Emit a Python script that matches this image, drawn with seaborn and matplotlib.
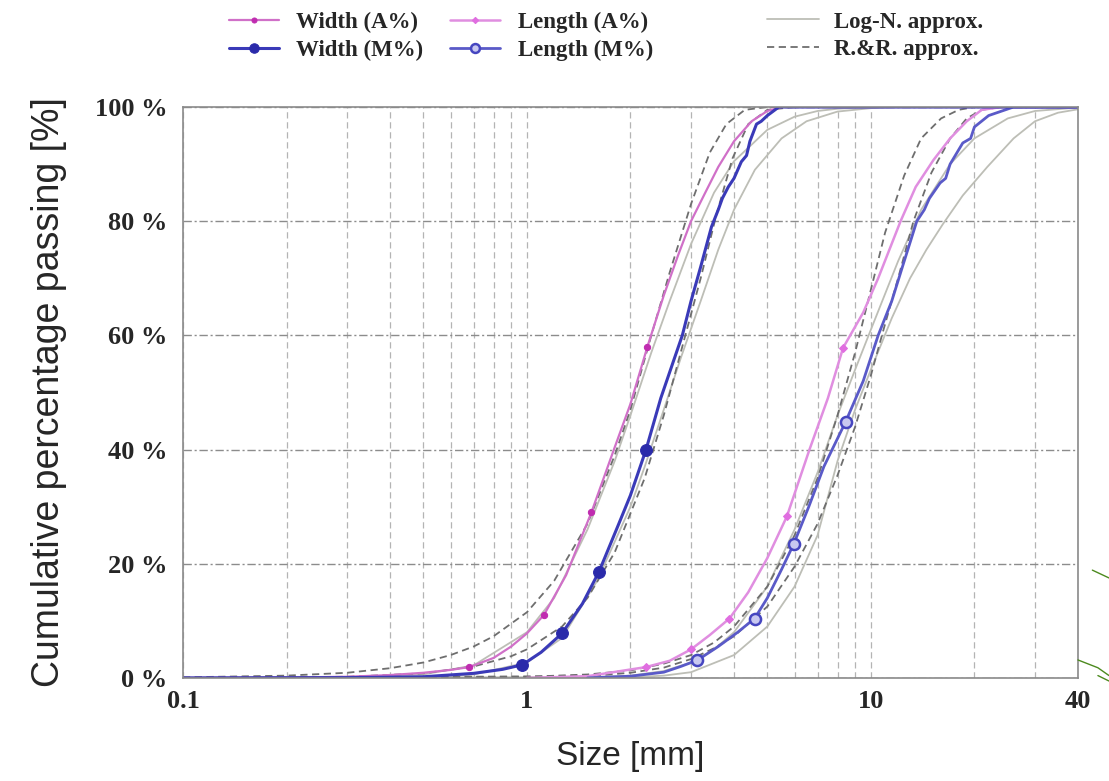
import numpy as np
import pandas as pd
import matplotlib
matplotlib.use("Agg")
import matplotlib.pyplot as plt
import seaborn as sns
from matplotlib.lines import Line2D
from matplotlib.ticker import FixedLocator, NullFormatter

# measured curves (size in mm, cumulative % passing)
width_a_size = [0.1, 0.2, 0.3, 0.4, 0.5, 0.6, 0.68, 0.8, 0.9, 1.0, 1.12, 1.3, 1.54, 1.79, 2.0, 2.24,
                2.5, 2.75, 3.0, 3.3, 3.6, 4.0, 4.5, 5.0, 5.5, 40]
width_a_pass = [0, 0.05, 0.2, 0.5, 0.9, 1.4, 1.9, 3.5, 5.5, 7.8, 11, 18, 29, 40, 48, 58,
                67, 74, 80, 85, 89.5, 94, 97.5, 99.3, 100, 100]
width_a_marks = [0.68, 1.12, 1.54, 2.24]

width_m_size = [0.1, 0.3, 0.5, 0.7, 0.85, 0.97, 1.1, 1.265, 1.45, 1.62, 1.85, 2.0, 2.22, 2.45, 2.65,
                2.83, 3.0, 3.2, 3.44, 3.6, 3.7, 3.85, 4.0, 4.2, 4.35, 4.45, 4.65, 4.8, 5.0, 5.4, 40]
width_m_pass = [0, 0.05, 0.2, 0.8, 1.5, 2.3, 4.5, 7.8, 13, 18.6, 27, 32, 40, 49, 55,
                60, 66, 72, 79, 82, 84, 86, 87.5, 90.4, 91.5, 94, 97, 97.5, 98.5, 100, 100]
width_m_marks = [0.97, 1.265, 1.62, 2.22]

length_a_size = [1.0, 1.5, 2.22, 2.6, 3.0, 3.4, 3.88, 4.4, 5.0, 5.7, 6.63, 7.5, 8.3, 9.5, 10.5,
                 12.2, 13.5, 15.2, 17, 19, 21, 24, 40]
length_a_pass = [0, 0.3, 1.9, 3, 5, 7.5, 10.4, 15, 21, 28.3, 40, 49, 57.8, 64, 70,
                 80, 86, 90.7, 94.5, 97.5, 99.5, 100, 100]
length_a_marks = [2.22, 3.0, 3.88, 5.7, 8.3]

length_m_size = [1.5, 2.0, 2.5, 2.8, 3.13, 3.6, 4.1, 4.59, 5.0, 5.5, 5.97, 6.6, 7.3, 8.45, 9.5,
                 10.5, 11.5, 12.5, 13.6, 14.3, 14.8, 15.9, 16.5, 17, 18.5, 19.5, 20, 22, 26, 40]
length_m_pass = [0, 0.3, 1, 2, 3.1, 5.5, 8, 10.4, 14, 19, 23.5, 30, 37, 44.9, 52,
                 60, 66, 73, 80, 82, 84, 86.7, 87.5, 90, 93.7, 94.5, 96.5, 98.5, 100, 100]
length_m_marks = [3.13, 4.59, 5.97, 8.45]

# fitted approximations
width_a_rr_size = [0.1, 0.2, 0.3, 0.4, 0.5, 0.6, 0.7, 0.8, 1.0, 1.2, 1.5, 1.8, 2.0, 2.3, 2.6, 3.0,
                   3.4, 3.8, 4.3, 5.0, 40]
width_a_rr_pass = [0.1, 0.4, 0.9, 1.7, 2.7, 4.0, 5.5, 7.3, 11.5, 17, 27, 39, 47, 60, 71, 83,
                   92, 97, 99.5, 100, 100]
width_a_ln_size = [0.1, 0.3, 0.5, 0.7, 1.0, 1.2, 1.5, 1.8, 2.0, 2.3, 2.6, 3.0, 3.5, 4.0, 5.0, 6.0,
                   7.0, 8.0, 10.0, 40]
width_a_ln_pass = [0, 0.1, 0.6, 2.2, 8, 14, 26, 38, 46, 57, 66, 76, 85, 90.5, 96, 98.3,
                   99.3, 99.7, 100, 100]

width_m_rr_size = [0.1, 0.3, 0.5, 0.7, 0.9, 1.0, 1.265, 1.5, 1.8, 2.2, 2.5, 2.8, 3.2, 3.55, 3.96,
                   4.4, 5.0, 6.0, 40]
width_m_rr_pass = [0, 0.2, 0.8, 2.0, 3.8, 5.0, 9, 14, 22, 35, 46, 57, 70, 81, 91,
                   97, 99.5, 100, 100]
width_m_ln_size = [0.1, 0.5, 0.7, 1.0, 1.265, 1.6, 2.0, 2.2, 2.5, 2.8, 3.2, 3.6, 4.0, 4.6, 5.5,
                   6.5, 8.0, 10.0, 12.0, 40]
width_m_ln_pass = [0, 0.1, 0.6, 2.7, 7, 17, 30, 37, 47, 56, 66, 75, 82, 89, 94.5,
                   97.5, 99.2, 99.8, 100, 100]

length_a_rr_size = [0.1, 1.0, 1.5, 2.0, 2.5, 3.0, 3.5, 4.0, 5.0, 6.0, 7.0, 8.0, 9.0, 10.0, 11.0,
                    12.5, 14.0, 16.0, 18.0, 20.0, 40]
length_a_rr_pass = [0, 0.2, 0.6, 1.3, 2.5, 4.0, 6.2, 9.0, 16, 25, 35, 46, 57, 68, 78,
                    88, 94.5, 98, 99.5, 100, 100]
length_a_ln_size = [0.1, 1.5, 2.0, 2.5, 3.0, 3.5, 4.0, 5.0, 6.0, 7.0, 8.0, 9.0, 10.0, 12.0, 14.0,
                    17.0, 20.0, 25.0, 30.0, 40]
length_a_ln_pass = [0, 0.1, 0.4, 1.2, 2.7, 5.0, 8.0, 16, 26, 36, 46, 54, 61, 73, 82,
                    90, 94.5, 98, 99.3, 99.9]

length_m_rr_size = [0.1, 1.5, 2.0, 2.5, 3.0, 3.5, 4.0, 5.0, 6.0, 7.0, 8.0, 9.0, 10.0, 11.0, 12.0,
                    13.3, 15.0, 17.0, 19.0, 21.0, 24.0, 40]
length_m_rr_pass = [0, 0.3, 0.9, 1.8, 3.3, 5.2, 7.3, 12.5, 19.5, 27, 35.5, 44, 53, 62, 70,
                    80, 88.5, 94.5, 98, 99.5, 100, 100]
length_m_ln_size = [0.1, 2.0, 2.5, 3.0, 4.0, 5.0, 6.0, 7.0, 8.0, 9.0, 10.0, 11.5, 13.0, 14.5, 16.2,
                    18.5, 21.8, 26.0, 30.0, 35.0, 40]
length_m_ln_pass = [0, 0.1, 0.4, 1.0, 4.0, 9, 16, 25, 38, 47, 54, 63, 70, 75, 79.5,
                    84.5, 89.5, 94.5, 97.5, 99, 99.6]

x_major = [0.1, 1, 10, 40]
x_major_labels = ["0.1", "1", "10", "40"]
x_minor = [0.2, 0.3, 0.4, 0.5, 0.6, 0.7, 0.8, 0.9, 2, 3, 4, 5, 6, 7, 8, 9, 20, 30]
y_ticks = [0, 20, 40, 60, 80, 100]
y_labels = ["0 %", "20 %", "40 %", "60 %", "80 %", "100 %"]

sns.set_style("white")
plt.rcParams["font.family"] = ["Liberation Serif", "DejaVu Serif"]

fig = plt.figure(figsize=(11.09, 7.81), dpi=100)
ax = fig.add_axes([0.165, 0.132, 0.807, 0.731])


def draw(x, y, label=None, marks=None, **style):
    df = pd.DataFrame({"size": x, "passing": y})
    every = [x.index(m) for m in marks] if marks else None
    sns.lineplot(data=df, x="size", y="passing", ax=ax, label=label, sort=False,
                 estimator=None, markevery=every, legend=False, **style)


ln_style = dict(color="#bdbeb6", linewidth=1.3)
rr_style = dict(color="#6e6e6e", linewidth=1.3, linestyle=(0, (4, 2.5)))

# approximations first (underneath)
draw(width_a_ln_size, width_a_ln_pass, "Log-N. approx.", **ln_style)
draw(width_m_ln_size, width_m_ln_pass, **ln_style)
draw(length_a_ln_size, length_a_ln_pass, **ln_style)
draw(length_m_ln_size, length_m_ln_pass, **ln_style)
draw(width_a_rr_size, width_a_rr_pass, "R.&R. approx.", **rr_style)
draw(width_m_rr_size, width_m_rr_pass, **rr_style)
draw(length_a_rr_size, length_a_rr_pass, **rr_style)
draw(length_m_rr_size, length_m_rr_pass, **rr_style)

# measured curves
draw(length_a_size, length_a_pass, "Length (A%)", length_a_marks, color="#e08ee0", linewidth=1.8,
     marker="D", markersize=4, markerfacecolor="#e06ee0", markeredgecolor="#e06ee0")
draw(width_a_size, width_a_pass, "Width (A%)", width_a_marks, color="#d070c8", linewidth=1.6,
     marker="o", markersize=4.5, markerfacecolor="#c02cb0", markeredgecolor="#c02cb0")
draw(length_m_size, length_m_pass, "Length (M%)", length_m_marks, color="#5a5ac8", linewidth=2.0,
     marker="o", markersize=8, markerfacecolor="#c8c8f0", markeredgecolor="#4646c0",
     markeredgewidth=1.8)
draw(width_m_size, width_m_pass, "Width (M%)", width_m_marks, color="#3a3ab8", linewidth=2.2,
     marker="o", markersize=8.5, markerfacecolor="#2a2aaa", markeredgecolor="#2a2aaa")

ax.set_xscale("log")
ax.set_xlim(0.1, 40)
ax.set_ylim(0, 100)
ax.xaxis.set_major_locator(FixedLocator(x_major))
ax.xaxis.set_minor_locator(FixedLocator(x_minor))
ax.xaxis.set_minor_formatter(NullFormatter())
ax.set_xticklabels(x_major_labels)
ax.set_yticks(y_ticks)
ax.set_yticklabels(y_labels)
ax.tick_params(axis="y", which="both", length=0, labelsize=19, pad=11)
ax.tick_params(axis="x", which="both", length=0, labelsize=19, pad=9)
for t in ax.get_xticklabels() + ax.get_yticklabels():
    t.set_fontweight("bold")

ax.grid(True, axis="x", which="both", color="#b4b4b4", linewidth=0.9, linestyle=(0, (5, 3)))
ax.grid(True, axis="y", which="major", color="#8c8c8c", linewidth=1.0, linestyle=(0, (6, 2, 1.5, 2)))
ax.set_axisbelow(True)
for s in ax.spines.values():
    s.set_color("#8a8a8a")
    s.set_linewidth(1.2)

ax.set_xlabel("Size [mm]", family=["Liberation Sans", "DejaVu Sans"], fontsize=24, labelpad=20)
ax.set_ylabel("Cumulative percentage passing [%]", family=["Liberation Sans", "DejaVu Sans"],
              fontsize=27, labelpad=20)

handles, labels = ax.get_legend_handles_labels()
lookup = dict(zip(labels, handles))
leg_font = {"family": "Liberation Serif", "weight": "bold", "size": 16.5}
data_order = ["Width (A%)", "Width (M%)", "Length (A%)", "Length (M%)"]
fit_order = ["Log-N. approx.", "R.&R. approx."]
leg1 = fig.legend([lookup[k] for k in data_order], data_order, loc="upper left",
                  bbox_to_anchor=(0.196, 1.0), ncol=2, frameon=False, prop=leg_font,
                  handlelength=2.2, handletextpad=0.75, columnspacing=1.15, labelspacing=0.3,
                  borderpad=0, markerscale=0.8)
leg2 = fig.legend([lookup[k] for k in fit_order], fit_order, loc="upper left",
                  bbox_to_anchor=(0.681, 1.0), ncol=1, frameon=False, prop=leg_font,
                  handlelength=2.3, handletextpad=0.65, labelspacing=0.3, borderpad=0)

# green stroke remnants at the right edge
fig.add_artist(Line2D([0.972, 0.99, 1.0], [0.155, 0.145, 0.135], color="#4c8a1e", linewidth=1.0))
fig.add_artist(Line2D([0.985, 1.0], [0.27, 0.26], color="#4c8a1e", linewidth=1.0))
fig.add_artist(Line2D([0.99, 1.0], [0.135, 0.128], color="#4c8a1e", linewidth=1.0))

fig.savefig("out.png", dpi=100)
